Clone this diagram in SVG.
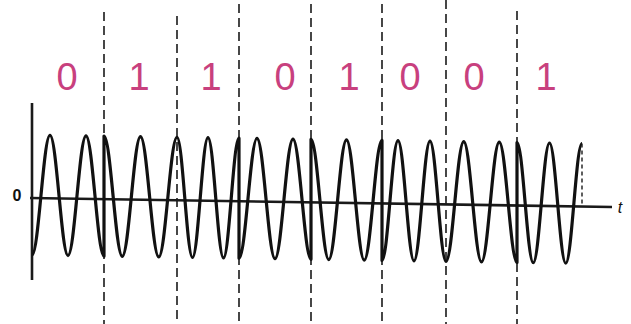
<svg xmlns="http://www.w3.org/2000/svg" width="631" height="324" viewBox="0 0 631 324">
<style>
.bit{font-family:"Liberation Sans",Arial,sans-serif;font-size:38px;fill:#c8407e;text-anchor:middle}
.dash{stroke:#1a1a1a;stroke-width:1.6;stroke-dasharray:9 5;fill:none}
.axis{stroke:#1a1a1a;stroke-width:2.6;fill:none}
.wave{stroke:#111;stroke-width:3.2;fill:none;stroke-linejoin:round}
.lbl{font-family:"Liberation Sans",Arial,sans-serif;fill:#111}
</style>
<rect width="631" height="324" fill="#ffffff"/>
<g id="bits">
<text class="bit" x="67" y="90">0</text>
<text class="bit" x="139" y="90">1</text>
<text class="bit" x="211" y="90">1</text>
<text class="bit" x="285" y="90">0</text>
<text class="bit" x="349" y="90">1</text>
<text class="bit" x="410" y="90">0</text>
<text class="bit" x="474" y="90">0</text>
<text class="bit" x="546" y="90">1</text>
</g>
<g id="boundaries">
<line class="dash" x1="104" y1="12" x2="104" y2="324"/>
<line class="dash" x1="177" y1="16" x2="177" y2="324"/>
<line class="dash" x1="239" y1="4" x2="239" y2="324"/>
<line class="dash" x1="311" y1="4" x2="311" y2="324"/>
<line class="dash" x1="382" y1="4" x2="382" y2="324"/>
<line class="dash" x1="446" y1="0" x2="446" y2="324"/>
<line class="dash" x1="517" y1="11" x2="517" y2="324"/>
</g>
<g id="axes">
<line class="axis" x1="32" y1="103" x2="32" y2="280"/>
<line class="axis" x1="30" y1="198" x2="612" y2="207"/>
<text class="lbl" x="17" y="201" font-size="16" font-weight="bold" text-anchor="middle">0</text>
<text class="lbl" x="620" y="213" font-size="16" font-style="italic" text-anchor="middle">t</text>
</g>
<g id="waveform" transform="matrix(1 0.01546 0 1 0 194.5)">
<path class="wave" d="M32,60 C38.55,60 43.45,-60 50,-60 C56.54,-60 61.46,60 68,60 C74.54,60 79.46,-60 86,-60 C92.54,-60 97.46,60 104,60 L104,-60 C110.63,-60 115.62,60 122.25,60 C128.88,60 133.87,-60 140.5,-60 C147.13,-60 152.12,60 158.75,60 C165.38,60 170.37,-60 177,-60 C182.63,-60 186.87,60 192.5,60 C198.13,60 202.37,-60 208,-60 C213.63,-60 217.87,60 223.5,60 C229.13,60 233.37,-60 239,-60 L239,60 C245.54,60 250.46,-60 257,-60 C263.54,-60 268.46,60 275,60 C281.54,60 286.46,-60 293,-60 C299.54,-60 304.46,60 311,60 L311,-60 C317.45,-60 322.3,60 328.75,60 C335.2,60 340.05,-60 346.5,-60 C352.95,-60 357.8,60 364.25,60 C370.7,60 375.55,-60 382,-60 L382,60 C387.81,60 392.19,-60 398,-60 C403.81,-60 408.19,60 414,60 C419.81,60 424.19,-60 430,-60 C435.81,-60 440.19,60 446,60 C452.45,60 457.3,-60 463.75,-60 C470.2,-60 475.05,60 481.5,60 C487.95,60 492.8,-60 499.25,-60 C505.7,-60 510.55,60 517,60 L517,-60 C522.91,-60 527.34,60 533.25,60 C539.16,60 543.59,-60 549.5,-60 C555.41,-60 559.84,60 565.75,60 C571.66,60 576.09,-60 582,-60"/>
<line x1="582" y1="-60" x2="582" y2="3" stroke="#1a1a1a" stroke-width="1.4" stroke-dasharray="4 3"/>
</g>
</svg>
